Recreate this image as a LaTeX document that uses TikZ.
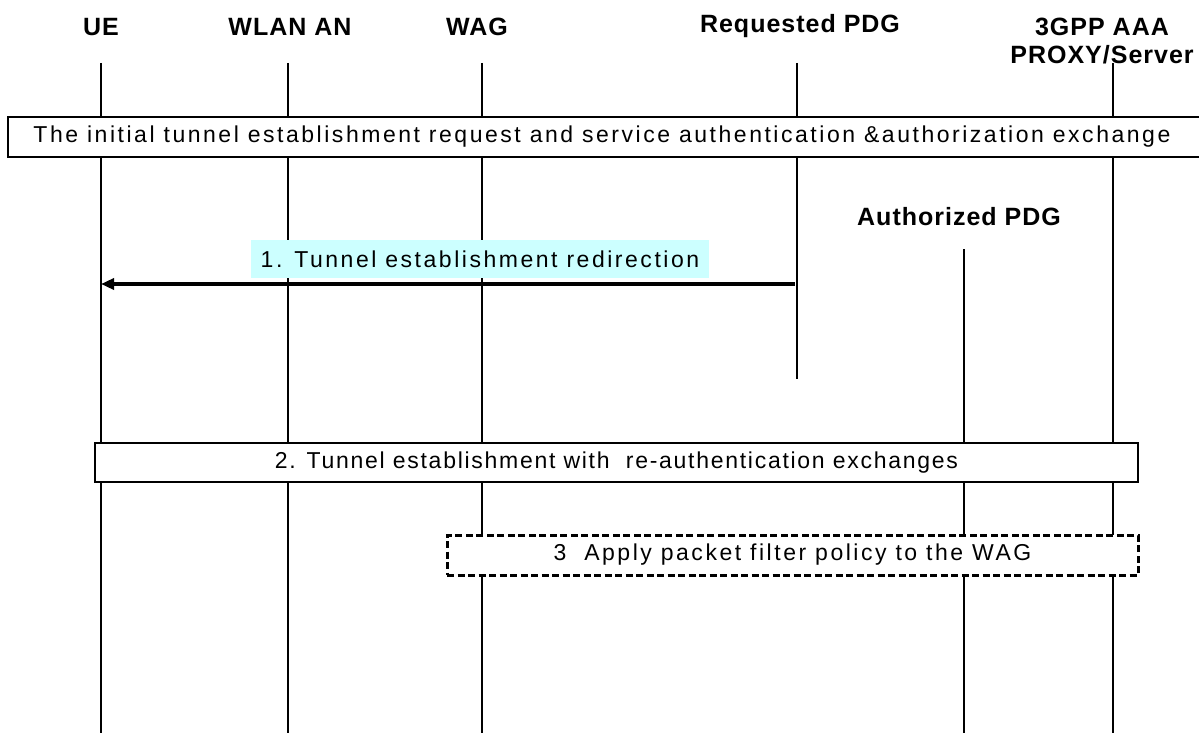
\documentclass[tikz,border=0pt]{standalone}
\usepackage{fontspec}
\setmainfont{Liberation Sans}
\newfontfamily\lblfont[LetterSpace=4]{Liberation Sans}
\newfontfamily\txtfont[LetterSpace=11]{Liberation Sans}
\newfontfamily\txtfontb[LetterSpace=7.5]{Liberation Sans}
\usetikzlibrary{arrows.meta}
\definecolor{hilite}{HTML}{CCFFFF}
\begin{document}
\begin{tikzpicture}[x=1pt,y=-1pt,
  lbl/.style={font=\lblfont\bfseries\fontsize{25}{28}\selectfont, inner sep=0pt, align=center},
  txt/.style={font=\txtfont\fontsize{23}{26}\selectfont},
  txtb/.style={font=\txtfontb\fontsize{23}{26}\selectfont},
  lifeline/.style={line width=1.5pt},
  msgbox/.style={draw, line width=1.6pt, fill=white, inner sep=0pt},
  dashbox/.style={txt, draw, line width=3pt, dash pattern=on 7pt off 3.5pt, fill=white, inner sep=0pt},
  hibox/.style={txt, fill=hilite, inner sep=0pt},
  msg/.style={line width=4pt, -{Triangle[length=13pt,width=11pt]}}
]
\useasboundingbox (0,0) rectangle (1199,733);
\clip (0,0) rectangle (1199,733);
\fill[white] (0,0) rectangle (1199,733);

% labels
\node[lbl] (ue) at (101,27) {UE};
\node[lbl] (wlan) at (290,27) {WLAN AN};
\node[lbl] (wag) at (477,27) {WAG};
\node[lbl] (req) at (800,26) {Requested PDG};
\node[lbl] (aaa) at (1102,41) {3GPP AAA\\PROXY/Server};
\node[lbl] (auth) at (959,217) {Authorized PDG};

% lifeline end points
\coordinate (ueT) at (101,63);   \coordinate (ueB) at (101,733);
\coordinate (wlT) at (288,63);   \coordinate (wlB) at (288,733);
\coordinate (wgT) at (482,63);   \coordinate (wgB) at (482,733);
\coordinate (rqT) at (797,63);   \coordinate (rqB) at (797,379);
\coordinate (aaT) at (1113,63);  \coordinate (aaB) at (1113,733);
\coordinate (auT) at (964,249);  \coordinate (auB) at (964,733);

\draw[lifeline] (ueT) -- (ueB);
\draw[lifeline] (wlT) -- (wlB);
\draw[lifeline] (wgT) -- (wgB);
\draw[lifeline] (rqT) -- (rqB);
\draw[lifeline] (aaT) -- (aaB);
\draw[lifeline] (auT) -- (auB);

% box 1
\node[msgbox, txt, minimum width=1193pt, minimum height=40pt] (b1) at (604.5,137) {};
\node[txt, inner sep=0pt] (b1t) at (602,137)
  {The initial tunnel establishment request and service authentication \&authorization exchange};

% message 1
\node[hibox, minimum width=458pt, minimum height=38pt] (m1lbl) at (480,259) {1. Tunnel establishment redirection};
\coordinate (m1s) at (795,284);
\coordinate (m1e) at (101,284);
\draw[msg] (m1s) -- (m1e);

% box 2
\node[msgbox, txtb, minimum width=1043pt, minimum height=39pt] (b2) at (616.5,462.5)
  {2. Tunnel establishment with \ re-authentication exchanges};

% box 3
\node[dashbox, minimum width=691pt, minimum height=40pt] (b3) at (792.5,555)
  {3 \ Apply packet filter policy to the WAG};
\end{tikzpicture}
\end{document}
